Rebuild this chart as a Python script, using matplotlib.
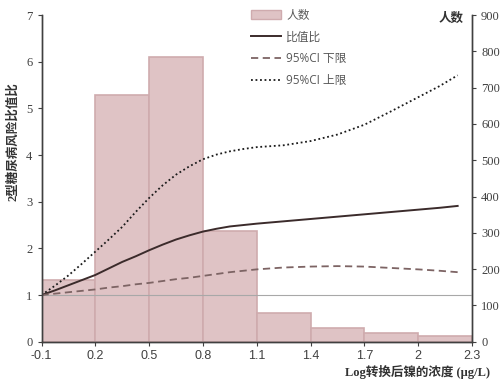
import numpy as np
import matplotlib
matplotlib.use("Agg")
import matplotlib.pyplot as plt
from matplotlib.patches import Patch
from matplotlib.lines import Line2D

plt.rcParams['font.family'] = ['Liberation Serif', 'Noto Sans CJK SC']

# histogram of counts (right axis), bins of width 0.3
bin_centers = [0.05, 0.35, 0.65, 0.95, 1.25, 1.55, 1.85, 2.15]
counts = [170, 680, 784, 305, 78, 37, 24, 16]

# curve values (left axis)
xs = [-0.1, -0.025, 0.05, 0.125, 0.2, 0.275, 0.35, 0.425, 0.5, 0.575, 0.65,
      0.725, 0.8, 0.875, 0.95, 1.025, 1.1, 1.25, 1.4, 1.55, 1.7, 1.85, 2.0,
      2.12, 2.22]
odds = [1.0, 1.1, 1.21, 1.32, 1.43, 1.57, 1.71, 1.83, 1.96, 2.08, 2.19,
        2.28, 2.36, 2.42, 2.47, 2.5, 2.53, 2.58, 2.63, 2.68, 2.73, 2.78,
        2.83, 2.87, 2.91]
ci_low = [1.0, 1.03, 1.06, 1.09, 1.12, 1.16, 1.19, 1.23, 1.26, 1.3, 1.34,
          1.37, 1.41, 1.45, 1.49, 1.52, 1.55, 1.59, 1.61, 1.62, 1.61, 1.58,
          1.55, 1.52, 1.49]
ci_up = [1.0, 1.2, 1.42, 1.67, 1.93, 2.19, 2.46, 2.78, 3.08, 3.35, 3.58,
         3.76, 3.91, 4.01, 4.08, 4.13, 4.17, 4.21, 4.3, 4.44, 4.65, 4.94,
         5.24, 5.48, 5.71]

xticks = [-0.1, 0.2, 0.5, 0.8, 1.1, 1.4, 1.7, 2.0, 2.3]
xticklabels = ["-0.1", "0.2", "0.5", "0.8", "1.1", "1.4", "1.7", "2", "2.3"]

fig = plt.figure(figsize=(5, 3.82), dpi=100)
ax = fig.add_axes([0.083, 0.1055, 0.861, 0.855])
ax2 = ax.twinx()

bar_color = "#dfc3c5"
ax2.bar(bin_centers, counts, width=0.3, color=bar_color,
        edgecolor="#cfabae", linewidth=1.2)
ax2.set_ylim(0, 900)
ax2.set_yticks(np.arange(0, 901, 100))

ax.axhline(1, color="#a8a8a8", linewidth=0.8)
ax.plot(xs, odds, color="#3b2b2b", linewidth=1.4)
ax.plot(xs, ci_low, color="#7d6464", linewidth=1.3, linestyle=(0, (4, 2.5)))
ax.plot(xs, ci_up, color="#1a1a1a", linewidth=1.3, linestyle=(0, (1, 1.5)))

ax.set_zorder(ax2.get_zorder() + 1)
ax.patch.set_visible(False)

ax.set_xlim(-0.1, 2.3)
ax.set_ylim(0, 7)
ax.set_yticks(range(0, 8))
ax.set_xticks(xticks)
ax.set_xticklabels(xticklabels, family=["Liberation Sans"], fontsize=8.5)

for a in (ax, ax2):
    a.spines["top"].set_visible(False)
    for s in ("left", "right", "bottom"):
        a.spines[s].set_color("#404040")
        a.spines[s].set_linewidth(1.0)
    a.tick_params(length=3, width=0.8, color="#404040", labelsize=9,
                  labelcolor="#404040")
ax.tick_params(axis="x", pad=3)

fig.text(0.026, 0.63, "2型糖尿病风险比值比", rotation=90, ha="center",
         va="center", fontsize=9, fontweight="bold", color="#333333")
fig.text(0.98, 0.026, "Log转换后镍的浓度 (μg/L)", ha="right", va="center",
         fontsize=9, fontweight="bold", color="#333333")
fig.text(0.928, 0.952, "人数", ha="right", va="center", fontsize=9,
         fontweight="bold", color="#333333")

handles = [
    Patch(facecolor=bar_color, edgecolor="#cfabae"),
    Line2D([], [], color="#3b2b2b", linewidth=1.4),
    Line2D([], [], color="#7d6464", linewidth=1.3, linestyle=(0, (4, 2.5))),
    Line2D([], [], color="#1a1a1a", linewidth=1.3, linestyle=(0, (1, 1.5))),
]
labels = ["人数", "比值比", "95%CI 下限", "95%CI 上限"]
fig.legend(handles, labels, loc="upper left", bbox_to_anchor=(0.48, 1.005),
           frameon=False, handlelength=2.6, handletextpad=0.4,
           labelspacing=0.75, labelcolor="#595959",
           prop={"family": ["Open Sans", "Noto Sans CJK SC"], "size": 8.5})

fig.savefig("out.png", dpi=100)
